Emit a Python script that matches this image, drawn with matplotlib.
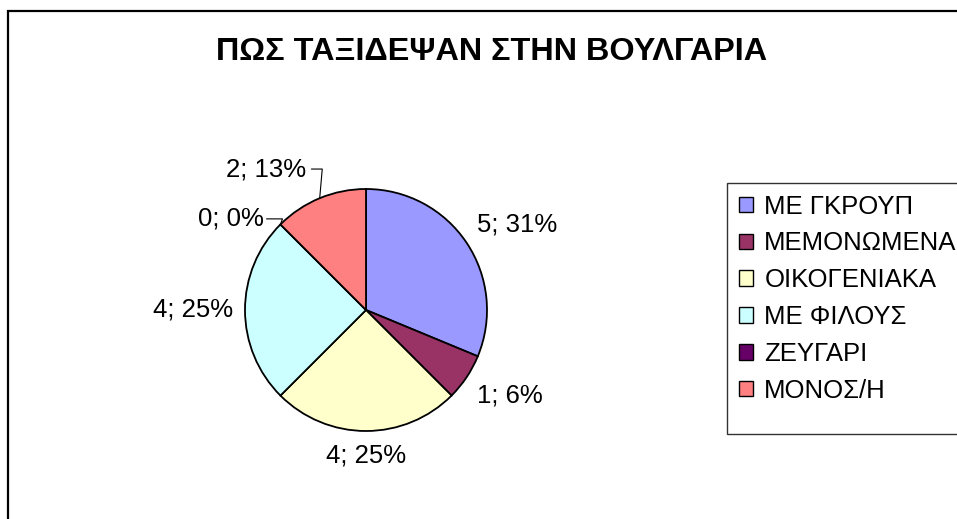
import numpy as np
import matplotlib.pyplot as plt
from matplotlib.patches import Rectangle, Patch

plt.rcParams["font.family"] = ["Liberation Sans", "DejaVu Sans"]

categories = ["ΜΕ ΓΚΡΟΥΠ", "ΜΕΜΟΝΩΜΕΝΑ", "ΟΙΚΟΓΕΝΙΑΚΑ", "ΜΕ ΦΙΛΟΥΣ", "ΖΕΥΓΑΡΙ", "ΜΟΝΟΣ/Η"]
counts = [5, 1, 4, 4, 0, 2]
colors = ["#9999FF", "#993366", "#FFFFCC", "#CCFFFF", "#660066", "#FF8080"]
title = "ΠΩΣ ΤΑΞΙΔΕΨΑΝ ΣΤΗΝ ΒΟΥΛΓΑΡΙΑ"

W, H = 957, 519
fig = plt.figure(figsize=(W / 100, H / 100), dpi=100)

# outer chart border (runs off the right and bottom edges)
fig.patches.append(Rectangle((8 / W, -0.1), 1.2, (H - 11) / H + 0.1,
                             transform=fig.transFigure, fill=False,
                             edgecolor="black", linewidth=1.6))

fig.text(492 / W, 1 - 52 / H, title, ha="center", va="center",
         fontsize=23.3, fontweight="bold")

# pie centred at (366, 310) px, radius 121 px
cx, cy, r = 366, 310, 121
ax = fig.add_axes([(cx - r) / W, (H - cy - r) / H, 2 * r / W, 2 * r / H])
wedges, _ = ax.pie(counts, colors=colors, startangle=90, counterclock=False,
                   wedgeprops=dict(edgecolor="black", linewidth=1.3))
ax.set_xlim(-1, 1)
ax.set_ylim(-1, 1)
ax.set_aspect("equal")
ax.axis("off")

total = sum(counts)
labels = [f"{c}; {int(100 * c / total + 0.5)}%" for c in counts]
for w, lab, c in zip(wedges, labels, counts):
    ang = np.deg2rad((w.theta1 + w.theta2) / 2)
    x, y = np.cos(ang), np.sin(ang)
    if c == 0:
        ax.annotate(lab, xy=(x, y), xytext=(-12, 4), textcoords="offset points",
                    ha="right", va="center", fontsize=18.5,
                    arrowprops=dict(arrowstyle="-", color="black", lw=0.8,
                                    connectionstyle="angle,angleA=0,angleB=70,rad=0",
                                    shrinkA=0, shrinkB=0))
        continue
    if c == 2:
        ax.annotate(lab, xy=(x, y), xytext=(-10, 21), textcoords="offset points",
                    ha="right", va="center", fontsize=18.5,
                    arrowprops=dict(arrowstyle="-", color="black", lw=0.8,
                                    connectionstyle="angle,angleA=0,angleB=85,rad=0",
                                    shrinkA=2, shrinkB=0))
        continue
    ha = "left" if x > 0.2 else ("right" if x < -0.2 else "center")
    va = "bottom" if y > 0.2 else ("top" if y < -0.2 else "center")
    ax.text(1.1 * x, 1.1 * y, lab, ha=ha, va=va, fontsize=18.5)

# legend box (runs off the right edge)
fig.patches.append(Rectangle((727 / W, 1 - 434 / H), 0.5, (434 - 183) / H,
                             transform=fig.transFigure, facecolor="white",
                             edgecolor="#333333", linewidth=1.0))
handles = [Patch(facecolor=col, edgecolor="black", linewidth=1.0) for col in colors]
leg = fig.legend(handles, categories, loc="upper left",
                 bbox_to_anchor=(727 / W, 1 - 183 / H), fontsize=18.5,
                 frameon=False, handlelength=0.55, handleheight=0.55,
                 handletextpad=0.45, labelspacing=0.5, borderpad=0.45,
                 borderaxespad=0)

fig.savefig("out.png", dpi=100, facecolor="white")
